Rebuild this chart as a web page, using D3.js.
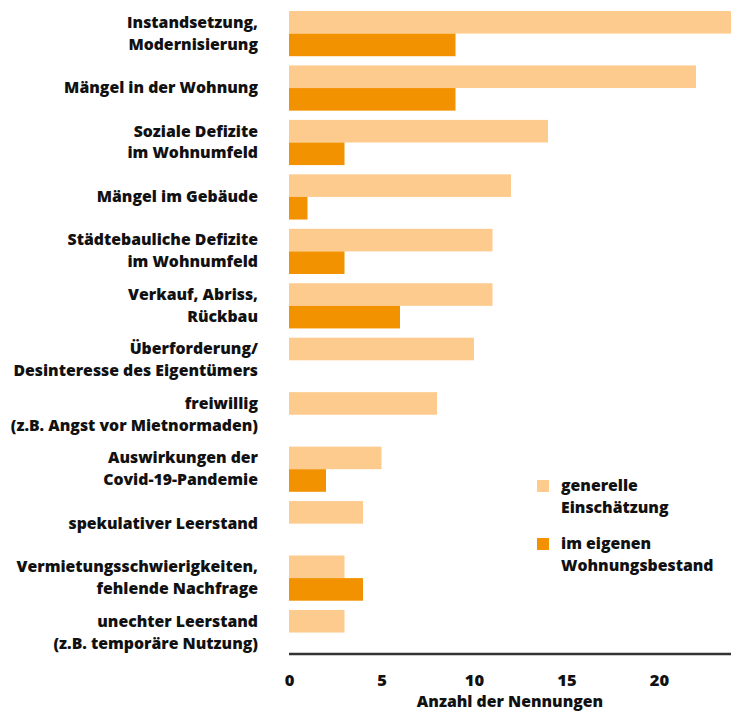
<!DOCTYPE html>
<html>
  <head>
    <meta charset="utf-8">
    <title>Leerstand Gründe</title>
    <script src="https://cdn.jsdelivr.net/npm/d3@7" type="text/javascript"></script>
    <style>
      body { margin: 0; background: #fff; }
      text { font-family: "Open Sans", sans-serif; font-weight: 800; fill: #111; }
    </style>
  </head>
  <body>
    <script>
      // categories (line breaks as in the original)
      var categories = [
        ["Instandsetzung,", "Modernisierung "],
        ["Mängel in der Wohnung"],
        ["Soziale Defizite", "im Wohnumfeld"],
        ["Mängel im Gebäude"],
        ["Städtebauliche Defizite", "im Wohnumfeld"],
        ["Verkauf, Abriss,", "Rückbau"],
        ["Überforderung/", "Desinteresse des Eigentümers"],
        ["freiwillig", "(z.B. Angst vor Mietnormaden)"],
        ["Auswirkungen der", "Covid-19-Pandemie"],
        ["spekulativer Leerstand"],
        ["Vermietungsschwierigkeiten,", "fehlende Nachfrage"],
        ["unechter Leerstand", "(z.B. temporäre Nutzung)"]
      ];
      var generell = [24, 22, 14, 12, 11, 11, 10, 8, 5, 4, 3, 3];
      var eigen = [9, 9, 3, 1, 3, 6, 0, 0, 2, 0, 4, 0];
      var seriesNames = [["generelle", "Einschätzung"], ["im eigenen", "Wohnungsbestand"]];
      var seriesColors = ["#fdcb8e", "#f39200"];
      var ticks = [0, 5, 10, 15, 20];
      var axisTitle = "Anzahl der Nennungen";

      var w = 731, h = 712;
      var fs = 15.8;
      var svg = d3.select("body").append("svg")
                  .attr("width", w)
                  .attr("height", h);

      var x = d3.scaleLinear().domain([0, 24]).range([289, 733]);
      var pad = 0.17, step = 54.45;
      var y = d3.scaleBand()
                .domain(d3.range(categories.length))
                .range([11, 11 + step * (categories.length - pad)])
                .paddingInner(pad)
                .paddingOuter(0);
      var ySub = d3.scaleBand().domain([0, 1]).range([0, y.bandwidth()]);

      var rows = categories.map(function(c, i) {
        return { label: c, values: [generell[i], eigen[i]], i: i };
      });

      var g = svg.selectAll(".row")
                 .data(rows)
                 .enter().append("g")
                 .attr("class", "row")
                 .attr("transform", function(d) { return "translate(0," + y(d.i) + ")"; });

      g.selectAll("rect")
       .data(function(d) { return d.values.map(function(v, k) { return { v: v, k: k }; })
                                   .filter(function(e) { return e.v > 0; }); })
       .enter().append("rect")
       .attr("x", x(0))
       .attr("y", function(d) { return ySub(d.k); })
       .attr("width", function(d) { return x(d.v) - x(0); })
       .attr("height", ySub.bandwidth())
       .attr("fill", function(d) { return seriesColors[d.k]; });

      // category labels
      g.append("text")
       .attr("text-anchor", "end")
       .attr("font-size", fs)
       .attr("x", 258)
       .attr("y", function(d) { return y.bandwidth() / 2 + 5 - (d.label.length - 1) * 11; })
       .selectAll("tspan")
       .data(function(d) { return d.label; })
       .enter().append("tspan")
       .attr("x", 258)
       .attr("dy", function(d, i) { return i === 0 ? 0 : 22; })
       .text(function(d) { return d; });

      // x axis
      var axis = svg.append("g")
                    .attr("transform", "translate(0,654)")
                    .call(d3.axisBottom(x).tickValues(ticks).tickSize(0).tickPadding(20));
      axis.select(".domain").attr("stroke", "#333").attr("stroke-width", 2.5)
          .attr("d", "M" + x(0) + ",0H" + w);
      axis.selectAll(".tick text")
          .attr("font-size", 16.5)
          .attr("font-family", "Open Sans, sans-serif")
          .attr("font-weight", 800)
          .attr("fill", "#111");

      svg.append("text")
         .attr("x", (x(0) + w) / 2)
         .attr("y", 707)
         .attr("text-anchor", "middle")
         .attr("font-size", fs)
         .text(axisTitle);

      // legend
      var legend = svg.selectAll(".legend")
                      .data(seriesNames)
                      .enter().append("g")
                      .attr("class", "legend")
                      .attr("transform", function(d, i) { return "translate(537," + (480 + i * 58) + ")"; });
      legend.append("rect")
            .attr("width", 12)
            .attr("height", 12)
            .attr("fill", function(d, i) { return seriesColors[i]; });
      legend.append("text")
            .attr("x", 24)
            .attr("y", 11)
            .attr("font-size", fs)
            .selectAll("tspan")
            .data(function(d) { return d; })
            .enter().append("tspan")
            .attr("x", 24)
            .attr("dy", function(d, i) { return i === 0 ? 0 : 22; })
            .text(function(d) { return d; });
    </script>
  </body>
</html>
